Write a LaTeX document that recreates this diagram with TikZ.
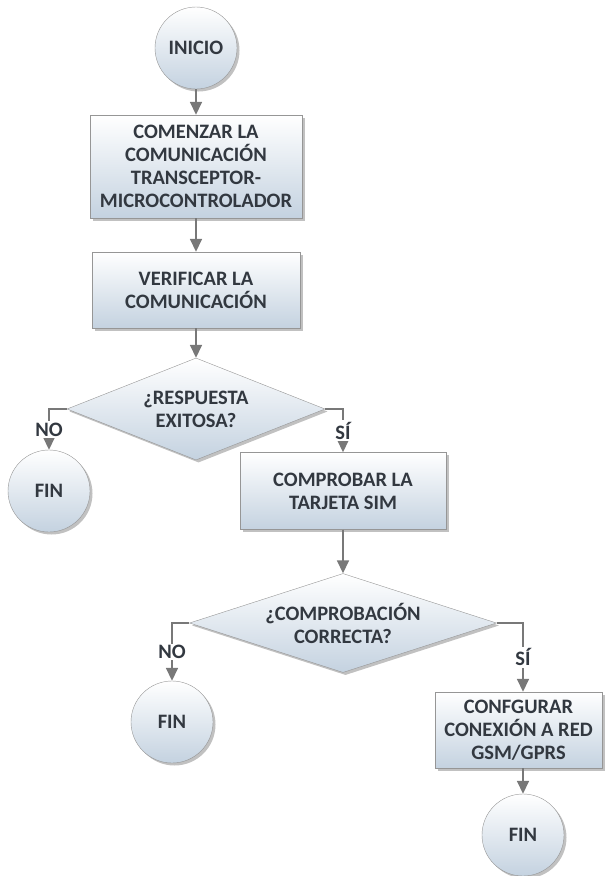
\documentclass[tikz,border=0pt]{standalone}
\usepackage{fontspec}
\setmainfont{Carlito}
\usepackage{tikz}
\usetikzlibrary{positioning,shapes,shapes.geometric,shadows,arrows.meta,calc}

\definecolor{lineGray}{RGB}{120,120,120}
\definecolor{edgeGray}{RGB}{150,150,150}
\definecolor{fillBlue}{RGB}{196,210,224}
\definecolor{txtGray}{RGB}{50,56,64}

\begin{document}
\begin{tikzpicture}[
    x=1pt, y=-1pt,
    every node/.style={font=\fontsize{20.5}{23}\selectfont\bfseries, text=txtGray, align=center},
    proc/.style={rectangle, draw=edgeGray, top color=white, bottom color=fillBlue, inner sep=0pt,
        drop shadow={shadow xshift=2.5pt, shadow yshift=-2.5pt, opacity=0.35, fill=black!70}},
    term/.style={circle, draw=edgeGray, top color=white, bottom color=fillBlue, minimum size=82pt, inner sep=0pt,
        drop shadow={shadow xshift=2.5pt, shadow yshift=-2.5pt, opacity=0.35, fill=black!70}},
    decis/.style={diamond, aspect=3, draw=edgeGray, top color=white, bottom color=fillBlue, inner sep=0pt,
        drop shadow={shadow xshift=2.5pt, shadow yshift=-2.5pt, opacity=0.35, fill=black!70}},
    arr/.style={draw=lineGray, line width=1.6pt, -{Triangle[width=12pt,length=13pt]}},
    lbl/.style={fill=white, inner sep=1.5pt}
]
\useasboundingbox (0,0) rectangle (608,876);

% Main column
\node[term] (inicio) at (196,48) {INICIO};
\node[proc, minimum width=212pt, minimum height=103pt] (comenzar) at (196,166.5) {COMENZAR LA\\COMUNICACIÓN\\TRANSCEPTOR-\\MICROCONTROLADOR};
\node[proc, minimum width=208pt, minimum height=76pt] (verificar) at (196,290) {VERIFICAR LA\\COMUNICACIÓN};
\node[decis, minimum width=258pt, minimum height=102pt] (resp) at (196,409) {¿RESPUESTA\\EXITOSA?};

% First branch
\node[term] (fin1) at (49,491) {FIN};
\node[proc, minimum width=206pt, minimum height=77pt] (sim) at (343,491) {COMPROBAR LA\\TARJETA SIM};
\node[decis, minimum width=307pt, minimum height=99pt] (compr) at (343,623) {¿COMPROBACIÓN\\CORRECTA?};

% Second branch
\node[term] (fin2) at (172,722) {FIN};
\node[proc, minimum width=167pt, minimum height=76pt] (red) at (518.5,730) {CONFGURAR\\CONEXIÓN A RED\\GSM/GPRS};
\node[term] (fin3) at (523,835) {FIN};

% Connections
\draw[arr] (inicio) -- (comenzar);
\draw[arr] (comenzar) -- (verificar);
\draw[arr] (verificar) -- (resp);
\draw[arr] (resp.west) -| node[lbl, pos=0.75] {NO} (fin1);
\draw[arr] (resp.east) -| node[lbl, pos=0.75] {SÍ} (sim);
\draw[arr] (sim) -- (compr);
\draw[arr] (compr.west) -| node[lbl, pos=0.75] {NO} (fin2);
\draw[arr] (compr.east) -| node[lbl, pos=0.75] {SÍ} (fin3 |- red.north);
\draw[arr] (fin3 |- red.south) -- (fin3);

\end{tikzpicture}
\end{document}
